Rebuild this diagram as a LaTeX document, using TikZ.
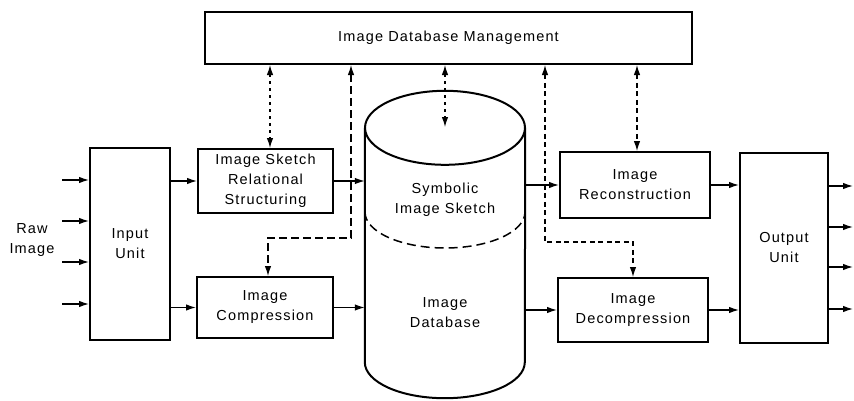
\documentclass[tikz,border=0pt]{standalone}
\usepackage{fontspec}
\setmainfont{Liberation Sans}[LetterSpace=8]
\usetikzlibrary{arrows.meta,calc}
\begin{document}
\begin{tikzpicture}[x=1pt,y=1pt,
  box/.style={draw, line width=2pt, rectangle, align=center, inner sep=0pt},
  txt/.style={font=\fontsize{14.5}{20}\selectfont, align=center},
  arr/.style={line width=1.3pt, -{Latex[length=10pt,width=6.5pt]}},
  darr/.style={line width=1.2pt, {Latex[length=10pt,width=6.5pt]}-{Latex[length=10pt,width=6.5pt]}, dash pattern=on 5pt off 3.5pt},
  cylline/.style={line width=2pt}
]
\useasboundingbox (0,0) rectangle (854,400);
\fill[white] (0,0) rectangle (854,400);

% nodes
\node[box, txt, minimum width=487pt, minimum height=52pt] (mgmt) at (448.5,362) {Image Database Management};
\node[box, txt, minimum width=80pt, minimum height=192pt] (input) at (130,156) {Input\\Unit};
\node[box, txt, minimum width=135pt, minimum height=64pt] (isrs) at (265.5,219) {Image Sketch\\Relational\\Structuring};
\node[box, txt, minimum width=136pt, minimum height=61pt] (comp) at (265,92.5) {Image\\Compression};
\node[minimum width=160pt, minimum height=234pt, inner sep=0pt] (cyl) at (445,155) {};
\node[txt] (sym) at (445,200) {Symbolic\\Image Sketch};
\node[txt] (idb) at (445,87) {Image\\Database};
\node[box, txt, minimum width=150pt, minimum height=66pt] (recon) at (635,215) {Image\\Reconstruction};
\node[box, txt, minimum width=150pt, minimum height=64pt] (decomp) at (633,90) {Image\\Decompression};
\node[box, txt, minimum width=88pt, minimum height=190pt] (output) at (784,152) {Output\\Unit};
\node[txt] (raw) at (32,160) {Raw\\Image};

% cylinder
\draw[cylline] (cyl.north) ellipse [x radius=80, y radius=37];
\draw[cylline] (cyl.north west) -- (cyl.south west) arc[start angle=180, end angle=360, x radius=80, y radius=36] -- (cyl.north east);
\draw[line width=1.5pt, dash pattern=on 9pt off 5pt] (365,188) arc[start angle=180, end angle=360, x radius=80, y radius=36];

% input arrows
\coordinate (i1) at (62,220);
\coordinate (i2) at (62,179);
\coordinate (i3) at (62,138);
\coordinate (i4) at (62,96);
\foreach \c in {i1,i2,i3,i4} \draw[arr] (\c) -- (\c -| input.west);

% output arrows
\coordinate (o1) at (853,214);
\coordinate (o2) at (853,173);
\coordinate (o3) at (853,133);
\coordinate (o4) at (853,91);
\foreach \c in {o1,o2,o3,o4} \draw[arr] (\c -| output.east) -- (\c);

% main flow
\draw[arr] (input.east |- isrs.west) -- (isrs.west);
\draw[arr] (input.east |- comp.west) -- (comp.west);
\draw[arr] (isrs.east) -- (isrs.east -| cyl.west);
\draw[arr] (comp.east) -- (comp.east -| cyl.west);
\draw[arr] (recon.west -| cyl.east) -- (recon.west);
\draw[arr] (decomp.west -| cyl.east) -- (decomp.west);
\draw[arr] (recon.east) -- (recon.east -| output.west);
\draw[arr] (decomp.east) -- (decomp.east -| output.west);

% management connectors
\coordinate (c1) at (270,0);
\coordinate (k1) at (351,162);
\coordinate (k2) at (268,162);
\coordinate (k3) at (445,273);
\coordinate (k4) at (545,158);
\coordinate (k5) at (633,158);
\coordinate (c6) at (637,0);
\draw[darr, dash pattern=on 3pt off 4pt] (mgmt.south -| c1) -- (isrs.north -| c1);
\draw[darr, dash pattern=on 8pt off 4pt] (mgmt.south -| k1) -- (k1) -- (k2) -- (comp.north -| k2);
\draw[darr, dash pattern=on 3pt off 4pt] (mgmt.south -| k3) -- (k3);
\draw[darr] (mgmt.south -| k4) -- (k4) -- (k5) -- (decomp.north -| k5);
\draw[darr] (mgmt.south -| c6) -- (recon.north -| c6);
\end{tikzpicture}
\end{document}
